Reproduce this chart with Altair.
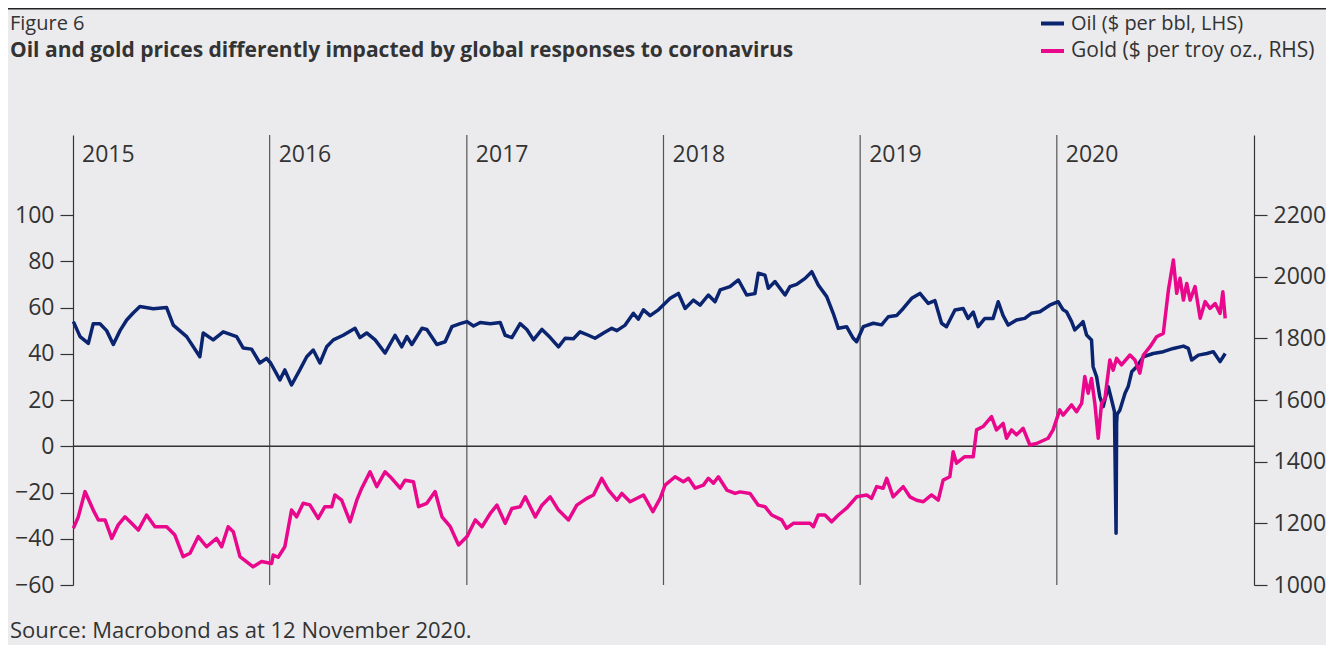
import altair as alt
import numpy as np
import pandas as pd

# ---- data (decimal year, value) ----
oil_year = [2015.002, 2015.036, 2015.078, 2015.103, 2015.137, 2015.171, 2015.205, 2015.239, 2015.273, 2015.306,
            2015.340, 2015.408, 2015.476, 2015.510, 2015.578, 2015.645, 2015.662, 2015.713, 2015.764, 2015.832,
            2015.865, 2015.908, 2015.950, 2015.984, 2016.005, 2016.052, 2016.077, 2016.111, 2016.153, 2016.188,
            2016.221, 2016.255, 2016.289, 2016.323, 2016.373, 2016.433, 2016.458, 2016.492, 2016.535, 2016.585,
            2016.636, 2016.670, 2016.696, 2016.721, 2016.772, 2016.797, 2016.848, 2016.890, 2016.924, 2016.966,
            2017.001, 2017.034, 2017.068, 2017.119, 2017.170, 2017.195, 2017.229, 2017.271, 2017.305, 2017.339,
            2017.382, 2017.424, 2017.466, 2017.500, 2017.542, 2017.576, 2017.618, 2017.652, 2017.695, 2017.737,
            2017.763, 2017.805, 2017.847, 2017.872, 2017.898, 2017.932, 2017.974, 2018.008, 2018.034, 2018.076,
            2018.110, 2018.152, 2018.186, 2018.228, 2018.262, 2018.288, 2018.338, 2018.381, 2018.423, 2018.465,
            2018.482, 2018.516, 2018.533, 2018.567, 2018.618, 2018.643, 2018.677, 2018.720, 2018.754, 2018.787,
            2018.830, 2018.863, 2018.889, 2018.931, 2018.965, 2018.982, 2019.016, 2019.067, 2019.109, 2019.143,
            2019.185, 2019.219, 2019.262, 2019.304, 2019.346, 2019.380, 2019.414, 2019.439, 2019.482, 2019.524,
            2019.549, 2019.575, 2019.600, 2019.634, 2019.676, 2019.702, 2019.727, 2019.753, 2019.795, 2019.837,
            2019.871, 2019.914, 2019.964, 2020.007, 2020.032, 2020.049, 2020.075, 2020.091, 2020.117, 2020.133,
            2020.151, 2020.176, 2020.184, 2020.202, 2020.218, 2020.235, 2020.261, 2020.278, 2020.2923, 2020.3005,
            2020.3033, 2020.306, 2020.320, 2020.346, 2020.362, 2020.380, 2020.405, 2020.439, 2020.489, 2020.540,
            2020.591, 2020.642, 2020.667, 2020.684, 2020.718, 2020.761, 2020.794, 2020.828, 2020.854]
oil_price = [53.9, 47.4, 44.5, 53.0, 53.0, 50.0, 44.0, 50.0, 54.6, 57.6,
             60.4, 59.5, 60.0, 52.4, 47.4, 38.7, 49.0, 46.0, 49.5, 47.4,
             42.5, 42.0, 36.0, 38.0, 36.0, 28.7, 33.0, 26.5, 33.0, 38.7,
             41.6, 36.0, 43.0, 46.0, 48.0, 51.0, 47.0, 49.0, 46.0, 40.3,
             48.0, 43.0, 47.4, 44.0, 51.0, 50.5, 44.0, 45.2, 51.7, 53.0,
             53.9, 52.0, 53.5, 53.0, 53.5, 48.0, 47.0, 53.0, 50.5, 46.0,
             50.5, 47.0, 43.0, 46.7, 46.5, 49.5, 48.0, 46.7, 49.0, 51.0,
             50.0, 52.4, 57.5, 55.0, 59.0, 56.5, 59.0, 61.8, 64.0, 66.1,
             59.6, 63.2, 61.0, 65.4, 62.5, 67.6, 69.0, 71.9, 65.4, 66.0,
             74.8, 74.0, 68.3, 71.2, 65.4, 69.0, 70.0, 72.6, 75.5, 69.7,
             64.7, 57.5, 51.0, 51.7, 46.7, 45.2, 51.7, 53.2, 52.5, 56.0,
             56.5, 59.6, 64.0, 66.1, 61.8, 63.0, 53.2, 51.7, 58.9, 59.6,
             55.3, 58.0, 51.7, 55.3, 55.3, 62.5, 56.5, 52.4, 54.6, 55.3,
             57.5, 58.2, 61.0, 62.5, 59.0, 58.2, 53.9, 50.3, 52.4, 53.9,
             48.1, 46.0, 34.4, 30.0, 21.4, 17.1, 25.8, 20.0, 15.0, -37.6,
             10.0, 13.8, 15.7, 22.9, 25.8, 32.2, 34.4, 38.7, 40.1, 40.9,
             42.3, 43.3, 42.3, 37.3, 39.4, 40.1, 40.9, 36.6, 40.1]

gold_year = [2015.002, 2015.027, 2015.061, 2015.103, 2015.129, 2015.163, 2015.197, 2015.230, 2015.264, 2015.298,
             2015.332, 2015.374, 2015.417, 2015.476, 2015.518, 2015.560, 2015.595, 2015.637, 2015.679, 2015.730,
             2015.756, 2015.789, 2015.815, 2015.849, 2015.916, 2015.959, 2016.010, 2016.018, 2016.043, 2016.077,
             2016.111, 2016.137, 2016.170, 2016.204, 2016.246, 2016.280, 2016.315, 2016.331, 2016.365, 2016.408,
             2016.442, 2016.467, 2016.509, 2016.543, 2016.585, 2016.619, 2016.662, 2016.687, 2016.729, 2016.755,
             2016.797, 2016.839, 2016.874, 2016.916, 2016.958, 2017.001, 2017.043, 2017.077, 2017.119, 2017.153,
             2017.195, 2017.229, 2017.271, 2017.297, 2017.348, 2017.382, 2017.424, 2017.466, 2017.517, 2017.559,
             2017.610, 2017.644, 2017.686, 2017.720, 2017.763, 2017.788, 2017.830, 2017.898, 2017.946, 2017.983,
             2018.008, 2018.059, 2018.101, 2018.127, 2018.161, 2018.203, 2018.228, 2018.254, 2018.279, 2018.322,
             2018.364, 2018.389, 2018.440, 2018.482, 2018.516, 2018.550, 2018.601, 2018.626, 2018.660, 2018.703,
             2018.745, 2018.762, 2018.787, 2018.821, 2018.855, 2018.889, 2018.931, 2018.982, 2019.033, 2019.058,
             2019.084, 2019.117, 2019.135, 2019.168, 2019.219, 2019.253, 2019.287, 2019.321, 2019.363, 2019.397,
             2019.422, 2019.456, 2019.473, 2019.490, 2019.532, 2019.575, 2019.592, 2019.625, 2019.668, 2019.693,
             2019.727, 2019.744, 2019.770, 2019.795, 2019.829, 2019.863, 2019.897, 2019.956, 2019.981, 2020.015,
             2020.032, 2020.075, 2020.100, 2020.126, 2020.142, 2020.159, 2020.176, 2020.193, 2020.210, 2020.227,
             2020.244, 2020.269, 2020.286, 2020.303, 2020.328, 2020.371, 2020.396, 2020.421, 2020.439, 2020.473,
             2020.506, 2020.540, 2020.566, 2020.591, 2020.608, 2020.625, 2020.642, 2020.659, 2020.676, 2020.701,
             2020.727, 2020.752, 2020.777, 2020.803, 2020.828, 2020.842, 2020.854]
gold_price = [1184, 1221, 1303, 1243, 1211, 1211, 1151, 1195, 1221, 1200,
              1178, 1227, 1189, 1189, 1162, 1092, 1103, 1157, 1124, 1151,
              1124, 1189, 1173, 1092, 1059, 1076, 1070, 1097, 1090, 1124,
              1243, 1221, 1265, 1260, 1216, 1254, 1254, 1292, 1275, 1205,
              1275, 1314, 1367, 1319, 1367, 1346, 1314, 1340, 1335, 1254,
              1265, 1303, 1221, 1189, 1130, 1157, 1211, 1189, 1232, 1259,
              1200, 1248, 1254, 1286, 1221, 1259, 1286, 1243, 1211, 1259,
              1281, 1292, 1346, 1308, 1275, 1297, 1270, 1292, 1238, 1281,
              1324, 1351, 1335, 1346, 1314, 1324, 1346, 1330, 1351, 1308,
              1297, 1302, 1297, 1259, 1254, 1227, 1211, 1184, 1200, 1200,
              1200, 1189, 1227, 1227, 1205, 1227, 1249, 1286, 1292, 1281,
              1319, 1314, 1346, 1286, 1319, 1286, 1275, 1270, 1292, 1275,
              1340, 1351, 1432, 1395, 1416, 1416, 1503, 1514, 1546, 1503,
              1524, 1476, 1503, 1487, 1508, 1454, 1459, 1476, 1503, 1568,
              1551, 1584, 1562, 1589, 1676, 1622, 1670, 1589, 1476, 1589,
              1605, 1730, 1697, 1735, 1714, 1746, 1730, 1687, 1746, 1773,
              1805, 1816, 1957, 2054, 1946, 1995, 1924, 1978, 1924, 1968,
              1865, 1919, 1897, 1913, 1881, 1951, 1865]

year_labels = ["2015", "2016", "2017", "2018", "2019", "2020"]
left_ticks = [-60, -40, -20, 0, 20, 40, 60, 80, 100]
right_ticks = [1000, 1200, 1400, 1600, 1800, 2000, 2200]

OIL = "#0b2470"
GOLD = "#e9078c"
BG = "#ebebee"
TXT = "#333333"
FONT = "Open Sans"
W, H = 1181, 450


def to_date(y):
    yr = int(np.floor(y))
    start = pd.Timestamp(yr, 1, 1)
    end = pd.Timestamp(yr + 1, 1, 1)
    return start + (end - start) * (y - yr)


oil_df = pd.DataFrame({"date": [to_date(v) for v in oil_year], "price": oil_price})
gold_df = pd.DataFrame({"date": [to_date(v) for v in gold_year], "price": gold_price})
years_df = pd.DataFrame({"date": [pd.Timestamp(int(y), 1, 1) for y in year_labels], "label": year_labels})
zero_df = pd.DataFrame({"price": [0]})

xscale = alt.Scale(domain=[alt.DateTime(year=2015, month=1, date=1),
                           alt.DateTime(year=2021, month=1, date=1)])
X = alt.X("date:T", scale=xscale, axis=None)

common_axis = dict(domain=True, domainColor=TXT, domainWidth=1.2, tickColor=TXT, tickWidth=1.2,
                   tickSize=13, labelFontSize=23, labelColor=TXT, labelFont=FONT, grid=False,
                   title=None, labelPadding=6, format="d")
left_axis = alt.Axis(orient="left", values=left_ticks, **common_axis)
right_axis = alt.Axis(orient="right", values=right_ticks, **common_axis)
oil_scale = alt.Scale(domain=[-60, 134.6], nice=False, zero=False)
gold_scale = alt.Scale(domain=[1000, 2459.5], nice=False, zero=False)

zero_rule = alt.Chart(zero_df).mark_rule(color=TXT, strokeWidth=1.3).encode(
    y=alt.Y("price:Q", scale=oil_scale, axis=left_axis))
oil_line = alt.Chart(oil_df).mark_line(color=OIL, strokeWidth=3.5, strokeJoin="round").encode(
    x=X, y=alt.Y("price:Q", scale=oil_scale, axis=left_axis))
gold_line = alt.Chart(gold_df).mark_line(color=GOLD, strokeWidth=3.5, strokeJoin="round").encode(
    x=X, y=alt.Y("price:Q", scale=gold_scale, axis=right_axis))

year_rules = alt.Chart(years_df[years_df.label != "2015"]).mark_rule(color="#555555", strokeWidth=1.2).encode(
    x=X, y=alt.value(0), y2=alt.value(H))
year_text = alt.Chart(years_df).mark_text(align="left", baseline="middle", dx=9, fontSize=23,
                                          font=FONT, color=TXT).encode(
    x=X, y=alt.value(20), text="label:N")


def label(txt, x, y, size=22, weight="normal", align="left"):
    return alt.Chart(pd.DataFrame({"t": [txt]})).mark_text(
        align=align, baseline="middle", fontSize=size, fontWeight=weight, font=FONT, color=TXT
    ).encode(x=alt.value(x), y=alt.value(y), text="t:N")


def swatch(color, y):
    return alt.Chart(pd.DataFrame({"t": [0]})).mark_rule(color=color, strokeWidth=4).encode(
        x=alt.value(968), x2=alt.value(991), y=alt.value(y))


top_bar = alt.Chart(pd.DataFrame({"t": [0]})).mark_rule(color="#222222", strokeWidth=2).encode(
    x=alt.value(-65), x2=alt.value(W + 72), y=alt.value(-126.5))

decor = [
    top_bar,
    label("Figure 6", -63, -111.5, size=20),
    label("Oil and gold prices differently impacted by global responses to coronavirus", -63, -84,
          size=21, weight="bold"),
    swatch(OIL, -111.5), label("Oil ($ per bbl, LHS)", 998, -111.5, size=20),
    swatch(GOLD, -84), label("Gold ($ per troy oz., RHS)", 998, -84, size=21),
    label("Source: Macrobond as at 12 November 2020.", -63, 496),
]

chart = alt.layer(
    year_rules, year_text, alt.layer(zero_rule, oil_line), gold_line, *decor
).resolve_scale(y="independent").properties(
    width=W, height=H,
    autosize=alt.AutoSizeParams(type="none"),
    padding={"left": 65, "top": 127, "right": 72, "bottom": 60},
    background=BG,
).configure_view(stroke=None)

chart.save("out.html", embed_options={"renderer": "svg", "actions": False})
